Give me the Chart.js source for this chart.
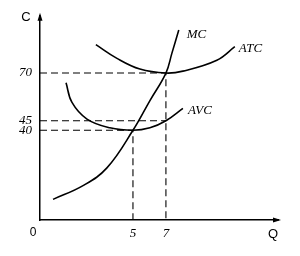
<!DOCTYPE html>
<html>
<head>
<meta charset="utf-8">
<script src="https://cdn.jsdelivr.net/npm/chart.js@4"></script>
<style>
  html, body { margin: 0; padding: 0; background: #fff; }
</style>
</head>
<body>
<canvas id="myChart" width="300" height="256"></canvas>
<script>
// cost curves (Q = quantity, C = cost)
const mcQ = [0.15, 1.97, 3.42, 5, 6.03, 7, 7.36, 7.78];
const mcC = [3.8, 11, 20.3, 40, 55.6, 70, 80.3, 92.6];
const atcQ = [2.75, 4.03, 5.42, 7, 8.03, 10.09, 11.18];
const atcC = [84.9, 77.7, 72.1, 70, 71, 76.7, 83.8];
const avcQ = [0.94, 1.3, 2.21, 3.6, 5, 6.03, 7, 8.03];
const avcC = [64.9, 54.6, 45.9, 41.3, 40, 41.3, 45, 51.5];

const qTicks = [5, 7];
const cTicks = [70, 45, 40];

// axis extents (the drawing is not to scale at the origin)
const qMin = -0.64, qMax = 13.8;
const cMin = -7, cMax = 100;

const pts = (xs, ys) => xs.map((x, i) => ({ x: x, y: ys[i] }));

// dashed guides from the axes to the marked points
const guides = [
  [{ x: qMin, y: 70 }, { x: 7, y: 70 }, { x: 7, y: cMin }],
  [{ x: qMin, y: 45 }, { x: 7, y: 45 }],
  [{ x: qMin, y: 40 }, { x: 5, y: 40 }, { x: 5, y: cMin }]
];

const serifIt = '"Liberation Serif", "DejaVu Serif", serif';

const curve = (name, data) => ({
  label: name,
  data: data,
  showLine: true,
  borderColor: '#000',
  borderWidth: 1.6,
  pointRadius: 0,
  tension: 0.4
});

const datasets = [
  curve('MC', pts(mcQ, mcC)),
  curve('ATC', pts(atcQ, atcC)),
  curve('AVC', pts(avcQ, avcC))
].concat(guides.map(g => ({
  label: 'guide',
  data: g,
  showLine: true,
  borderColor: '#000',
  borderWidth: 1.1,
  borderDash: [7, 4],
  pointRadius: 0,
  tension: 0
})));

// curve names, axis names, origin and arrow heads
const extras = {
  id: 'extras',
  afterDraw(chart) {
    const ctx = chart.ctx;
    const a = chart.chartArea;
    ctx.save();
    ctx.fillStyle = '#000';
    ctx.strokeStyle = '#000';

    // arrows
    ctx.beginPath();
    ctx.moveTo(a.left, a.top - 3);
    ctx.lineTo(a.left - 2.5, a.top + 5);
    ctx.lineTo(a.left + 2.5, a.top + 5);
    ctx.closePath();
    ctx.fill();
    ctx.beginPath();
    ctx.moveTo(a.right + 3, a.bottom);
    ctx.lineTo(a.right - 5, a.bottom - 2.5);
    ctx.lineTo(a.right - 5, a.bottom + 2.5);
    ctx.closePath();
    ctx.fill();

    ctx.font = '13px "Liberation Sans", Arial, sans-serif';
    ctx.textAlign = 'center';
    ctx.textBaseline = 'middle';
    ctx.fillText('C', 26, 17);
    ctx.fillText('Q', 273, 234);
    ctx.font = '12px "Liberation Sans", Arial, sans-serif';
    ctx.fillText('0', 33, 233);

    ctx.font = 'italic 13px ' + serifIt;
    ctx.textAlign = 'left';
    const offs = { MC: [8, 5], ATC: [4, 2], AVC: [5, 2] };
    chart.data.datasets.forEach((ds, i) => {
      const o = offs[ds.label];
      if (!o) return;
      const els = chart.getDatasetMeta(i).data;
      const p = els[els.length - 1];
      ctx.fillText(ds.label, p.x + o[0], p.y + o[1]);
    });
    ctx.restore();
  }
};

new Chart(document.getElementById('myChart'), {
  type: 'scatter',
  data: { datasets: datasets },
  options: {
    responsive: false,
    animation: false,
    layout: { padding: { top: 12, right: 22, left: 0, bottom: 0 } },
    plugins: { legend: { display: false }, tooltip: { enabled: false } },
    scales: {
      x: {
        type: 'linear',
        min: qMin,
        max: qMax,
        grid: { display: false, drawTicks: false },
        border: { color: '#000', width: 1.5 },
        afterBuildTicks: s => { s.ticks = qTicks.map(v => ({ value: v })); },
        afterFit: s => { s.height = 36; },
        ticks: {
          autoSkip: false,
          maxRotation: 0,
          padding: 6,
          color: '#000',
          font: { family: serifIt, style: 'italic', size: 13 }
        }
      },
      y: {
        type: 'linear',
        min: cMin,
        max: cMax,
        grid: { display: false, drawTicks: false },
        border: { color: '#000', width: 1.5 },
        afterBuildTicks: s => { s.ticks = cTicks.map(v => ({ value: v })); },
        afterFit: s => { s.width = 40; },
        ticks: {
          autoSkip: false,
          padding: 8,
          color: '#000',
          font: { family: serifIt, style: 'italic', size: 13 }
        }
      }
    }
  },
  plugins: [extras]
});
</script>
</body>
</html>
